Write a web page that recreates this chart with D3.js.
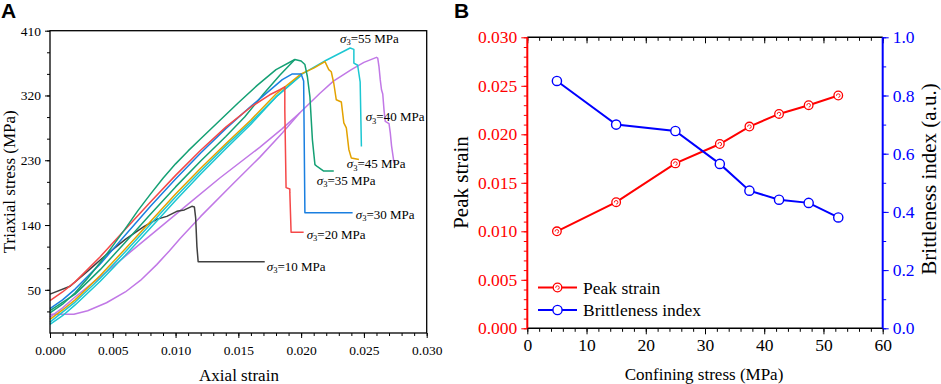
<!DOCTYPE html>
<html>
<head>
<meta charset="utf-8">
<title>Triaxial stress and brittleness</title>
<script src="https://d3js.org/d3.v7.min.js"></script>
<style>
  body { margin: 0; background: #fff; }
  text { font-family: "Liberation Serif", "Times New Roman", serif; }
</style>
</head>
<body>
<div id="chart"></div>
<script>
// ---------- panel A: stress-strain curves, [axial strain, triaxial stress (MPa)]
var curve10 = [[0,44],[0.0016,55],[0.003,76],[0.0045,99],[0.006,120],[0.0075,138],[0.0085,148],[0.0093,152],
  [0.0101,159],[0.0107,161],[0.0113,166],[0.0115,165],[0.0116,150],[0.0117,110],[0.0118,89],[0.0171,89]];
var curve20 = [[0,35],[0.001,47],[0.002,61],[0.004,96],[0.006,134],[0.008,172],[0.010,209],[0.012,244],
  [0.014,276],[0.016,304],[0.0175,321],[0.0183,328],[0.0187,332],[0.0187,300],[0.0188,192],[0.0191,190],
  [0.0191,185],[0.0192,130],[0.0202,130]];
var curve30 = [[0,24],[0.001,36],[0.002,51],[0.004,86],[0.006,126],[0.008,166],[0.010,204],[0.012,240],
  [0.014,274],[0.016,305],[0.0175,327],[0.0185,342],[0.0193,350],[0.0200,350],[0.0202,340],[0.0203,157],[0.0241,157]];
var curve35 = [[0,18],[0.001,30],[0.002,46],[0.003,66],[0.004,88],[0.005,111],[0.006,135],[0.007,160],
  [0.008,183],[0.009,205],[0.010,225],[0.011,243],[0.012,260],[0.0135,285],[0.015,310],[0.0165,334],
  [0.018,356],[0.0195,370],[0.0200,368],[0.0203,363],[0.0205,346],[0.0207,318],[0.0209,258],[0.0211,224],
  [0.0213,221],[0.0218,215],[0.0226,215]];
var curve35b = [[0,21],[0.002,44],[0.004,78],[0.006,116],[0.008,155],[0.010,193],[0.012,229],[0.014,263],
  [0.0155,290],[0.017,322],[0.0183,348],[0.0195,370]];
var curve40 = [[0,16],[0.0019,16],[0.003,21],[0.0045,32],[0.006,47],[0.0072,63],[0.0085,85],[0.0095,104],
  [0.0104,122],[0.012,152],[0.0145,196],[0.0167,234],[0.0185,268],[0.0199,296],[0.0215,323],[0.02257,340],
  [0.024,356],[0.025,366],[0.026,373],[0.0261,372],[0.0262,360],[0.0263,342],[0.0264,328],[0.0265,322],
  [0.0266,300],[0.0267,284],[0.0270,281],[0.0271,268],[0.0272,250],[0.0274,226]];
var curve40b = [[0,12],[0.001,25],[0.002,40],[0.003,54],[0.0045,75],[0.0065,104],[0.0085,133],[0.011,169],
  [0.0135,205],[0.0167,248],[0.0185,274],[0.0199,296]];
var curve45 = [[0,9],[0.001,22],[0.002,36],[0.004,70],[0.006,107],[0.008,145],[0.010,183],[0.012,219],
  [0.014,253],[0.016,286],[0.018,322],[0.020,350],[0.021,358],[0.0219,367],[0.0222,356],[0.0224,353],
  [0.0226,337],[0.0228,314],[0.0232,311],[0.0234,282],[0.0236,275],[0.0238,245],[0.0240,233],[0.0246,231]];
var curve55 = [[0,2],[0.001,14],[0.002,29],[0.004,62],[0.006,98],[0.008,136],[0.010,174],[0.012,211],
  [0.014,246],[0.016,280],[0.018,318],[0.020,349],[0.022,369],[0.0239,386],[0.0242,384],[0.0242,365],
  [0.0245,362],[0.0247,339],[0.0248,249]];
var curve55b = [[0,5],[0.002,33],[0.004,66],[0.006,103],[0.008,141],[0.010,179],[0.012,215],[0.014,250],
  [0.016,283],[0.018,318],[0.020,348]];

var strainTicks = [0, 0.005, 0.010, 0.015, 0.020, 0.025, 0.030];
var stressTicks = [50, 140, 230, 320, 410];

// ---------- panel B
var confining   = [5, 15, 25, 32.5, 37.5, 42.5, 47.5, 52.5];
var peakStrain  = [0.0100, 0.0130, 0.0170, 0.0190, 0.0208, 0.0221, 0.0230, 0.0240];
var brittleness = [0.850, 0.700, 0.678, 0.565, 0.473, 0.442, 0.431, 0.381];

var confTicks    = [0, 10, 20, 30, 40, 50, 60];
var peakTicks    = [0, 0.005, 0.010, 0.015, 0.020, 0.025, 0.030];
var brittleTicks = [0, 0.2, 0.4, 0.6, 0.8, 1.0];

var svg = d3.select("#chart").append("svg")
  .attr("width", 941).attr("height", 384);

// helper: style an axis group
function styleAxis(g, size, color) {
  g.attr("font-family", "Liberation Serif, Times New Roman, serif")
   .attr("font-size", size)
   .attr("color", color);
  g.select(".domain").remove();
}

// ================= panel A =================
var xA = d3.scaleLinear().domain([0, 0.03]).range([50, 426.7]);
var yA = d3.scaleLinear().domain([-10, 410]).range([333, 30.7]);

var curvesA = [
  { pts: curve40,  color: "#c178e6" },
  { pts: curve40b, color: "#c178e6" },
  { pts: curve10,  color: "#404040" },
  { pts: curve55b, color: "#1cc7d2" },
  { pts: curve55,  color: "#1cc7d2" },
  { pts: curve45,  color: "#e3a200" },
  { pts: curve35b, color: "#14a074" },
  { pts: curve30,  color: "#1a7fe0" },
  { pts: curve20,  color: "#f54848" },
  { pts: curve35,  color: "#14a074" }
];

var lineA = d3.line()
  .x(function(d) { return xA(d[0]); })
  .y(function(d) { return yA(d[1]); });

var gA = svg.append("g");

gA.selectAll(".curve").data(curvesA).enter().append("path")
  .attr("class", "curve")
  .attr("d", function(d) { return lineA(d.pts); })
  .attr("fill", "none")
  .attr("stroke", function(d) { return d.color; })
  .attr("stroke-width", 1.5)
  .attr("stroke-linejoin", "round");

// axes A
var axB = gA.append("g").attr("transform", "translate(0,333)")
  .call(d3.axisBottom(xA).tickValues(strainTicks).tickFormat(d3.format(".3f"))
    .tickSize(5).tickPadding(7));
styleAxis(axB, "13.5px", "#000");
var axBm = gA.append("g").attr("transform", "translate(0,333)")
  .call(d3.axisBottom(xA).tickValues(d3.range(0, 0.0301, 0.001)).tickFormat("").tickSize(3));
styleAxis(axBm, "13.5px", "#000");

var axL = gA.append("g").attr("transform", "translate(50,0)")
  .call(d3.axisLeft(yA).tickValues(stressTicks).tickFormat(d3.format("d"))
    .tickSize(5).tickPadding(4));
styleAxis(axL, "13.5px", "#000");
var axLm = gA.append("g").attr("transform", "translate(50,0)")
  .call(d3.axisLeft(yA).tickValues(d3.range(20, 411, 30)).tickFormat("").tickSize(3));
styleAxis(axLm, "13.5px", "#000");

gA.append("rect")
  .attr("x", 50).attr("y", 30.7)
  .attr("width", 376.7).attr("height", 302.3)
  .attr("fill", "none").attr("stroke", "#000").attr("stroke-width", 1.3);

// curve labels
var labelsA = [
  { s: "55", x: 0.02310, y: 393.4 },
  { s: "40", x: 0.02514, y: 284.0 },
  { s: "45", x: 0.02363, y: 219.0 },
  { s: "35", x: 0.02124, y: 196.0 },
  { s: "30", x: 0.02435, y: 148.9 },
  { s: "20", x: 0.02044, y: 121.2 },
  { s: "10", x: 0.01726, y: 76.3 }
];
labelsA.forEach(function(l) {
  var t = gA.append("text")
    .attr("x", xA(l.x)).attr("y", yA(l.y))
    .attr("font-size", "13px").attr("fill", "#000");
  t.append("tspan").attr("font-style", "italic").text("σ");
  t.append("tspan").attr("font-size", "8.5px").attr("dy", 2.5).text("3");
  t.append("tspan").attr("dy", -2.5).text("=" + l.s + " MPa");
});

gA.append("text").attr("x", 239).attr("y", 381)
  .attr("text-anchor", "middle").attr("font-size", "17px").text("Axial strain");
gA.append("text").attr("transform", "translate(15,181.7) rotate(-90)")
  .attr("text-anchor", "middle").attr("font-size", "17px").text("Triaxial stress (MPa)");

svg.append("text").attr("x", 1).attr("y", 18)
  .style("font-family", "Liberation Sans, Arial, sans-serif")
  .attr("font-weight", "bold").attr("font-size", "21px").text("A");
svg.append("text").attr("x", 454).attr("y", 18)
  .style("font-family", "Liberation Sans, Arial, sans-serif")
  .attr("font-weight", "bold").attr("font-size", "21px").text("B");

// ================= panel B =================
var xB  = d3.scaleLinear().domain([0, 60]).range([527.3, 882.7]);
var yBL = d3.scaleLinear().domain([0, 0.03]).range([328.3, 37.3]);
var yBR = d3.scaleLinear().domain([0, 1]).range([328.3, 37.3]);

var gB = svg.append("g");

// bottom axis
var bx = gB.append("g").attr("transform", "translate(0,328.3)")
  .call(d3.axisBottom(xB).tickValues(confTicks).tickFormat(d3.format("d")).tickSize(6).tickPadding(4));
styleAxis(bx, "17.5px", "#000");
var bxm = gB.append("g").attr("transform", "translate(0,328.3)")
  .call(d3.axisBottom(xB).tickValues(d3.range(0, 61, 2)).tickFormat("").tickSize(3.5));
styleAxis(bxm, "17.5px", "#000");
// top axis, ticks inward
var tx = gB.append("g").attr("transform", "translate(0,37.3)")
  .call(d3.axisBottom(xB).tickValues(confTicks).tickFormat("").tickSize(6));
styleAxis(tx, "17.5px", "#000");
var txm = gB.append("g").attr("transform", "translate(0,37.3)")
  .call(d3.axisBottom(xB).tickValues(d3.range(0, 61, 2)).tickFormat("").tickSize(3.5));
styleAxis(txm, "17.5px", "#000");

// left axis (red)
var ly = gB.append("g").attr("transform", "translate(527.3,0)")
  .call(d3.axisLeft(yBL).tickValues(peakTicks).tickFormat(d3.format(".3f")).tickSize(6).tickPadding(4));
styleAxis(ly, "17.5px", "#ff0000");
var lym = gB.append("g").attr("transform", "translate(527.3,0)")
  .call(d3.axisLeft(yBL).tickValues(d3.range(0, 0.0301, 0.001)).tickFormat("").tickSize(3.5));
styleAxis(lym, "17.5px", "#ff0000");

// right axis (blue)
var ry = gB.append("g").attr("transform", "translate(882.7,0)")
  .call(d3.axisRight(yBR).tickValues(brittleTicks).tickFormat(d3.format(".1f")).tickSize(6).tickPadding(4));
styleAxis(ry, "17.5px", "#0000ff");
var rym = gB.append("g").attr("transform", "translate(882.7,0)")
  .call(d3.axisRight(yBR).tickValues(d3.range(0, 1.01, 0.1)).tickFormat("").tickSize(3.5));
styleAxis(rym, "17.5px", "#0000ff");

// frame
gB.append("line").attr("x1", 527.3).attr("x2", 882.7).attr("y1", 37.3).attr("y2", 37.3)
  .attr("stroke", "#000").attr("stroke-width", 1.5);
gB.append("line").attr("x1", 527.3).attr("x2", 882.7).attr("y1", 328.3).attr("y2", 328.3)
  .attr("stroke", "#000").attr("stroke-width", 1.5);
gB.append("line").attr("x1", 527.3).attr("x2", 527.3).attr("y1", 37.3).attr("y2", 328.3)
  .attr("stroke", "#ff0000").attr("stroke-width", 2);
gB.append("line").attr("x1", 882.7).attr("x2", 882.7).attr("y1", 37.3).attr("y2", 328.3)
  .attr("stroke", "#0000ff").attr("stroke-width", 2);

// series
var peakData = confining.map(function(c, i) { return [c, peakStrain[i]]; });
var britData = confining.map(function(c, i) { return [c, brittleness[i]]; });

gB.append("path")
  .attr("d", d3.line().x(function(d) { return xB(d[0]); }).y(function(d) { return yBL(d[1]); })(peakData))
  .attr("fill", "none").attr("stroke", "#ff0000").attr("stroke-width", 2);
gB.append("path")
  .attr("d", d3.line().x(function(d) { return xB(d[0]); }).y(function(d) { return yBR(d[1]); })(britData))
  .attr("fill", "none").attr("stroke", "#0000ff").attr("stroke-width", 2);

function redMarker(g, x, y) {
  g.append("circle").attr("cx", x).attr("cy", y).attr("r", 4.3)
    .attr("fill", "#fff").attr("stroke", "#ff0000").attr("stroke-width", 1.3);
  g.append("path")
    .attr("d", "M" + (x - 1.8) + "," + (y + 0.3) + " a1.8,1.8 0 1,1 1.8,1.6")
    .attr("fill", "none").attr("stroke", "#ff0000").attr("stroke-width", 0.9);
}
function blueMarker(g, x, y) {
  g.append("circle").attr("cx", x).attr("cy", y).attr("r", 4.6)
    .attr("fill", "#fff").attr("stroke", "#0000ff").attr("stroke-width", 1.4);
}

peakData.forEach(function(d) { redMarker(gB, xB(d[0]), yBL(d[1])); });
britData.forEach(function(d) { blueMarker(gB, xB(d[0]), yBR(d[1])); });

// legend
gB.append("line").attr("x1", 538).attr("x2", 577).attr("y1", 287.5).attr("y2", 287.5)
  .attr("stroke", "#ff0000").attr("stroke-width", 2);
redMarker(gB, 557.5, 287.5);
gB.append("text").attr("x", 583).attr("y", 293.5).attr("font-size", "17.5px").text("Peak strain");
gB.append("line").attr("x1", 538).attr("x2", 577).attr("y1", 310).attr("y2", 310)
  .attr("stroke", "#0000ff").attr("stroke-width", 2);
blueMarker(gB, 557.5, 310);
gB.append("text").attr("x", 583).attr("y", 316).attr("font-size", "17.5px").text("Brittleness index");

// axis titles
gB.append("text").attr("x", 704).attr("y", 380)
  .attr("text-anchor", "middle").attr("font-size", "17px").text("Confining stress (MPa)");
gB.append("text").attr("transform", "translate(468,182.5) rotate(-90)")
  .attr("text-anchor", "middle").attr("font-size", "21px").text("Peak strain");
gB.append("text").attr("transform", "translate(936,179) rotate(-90)")
  .attr("text-anchor", "middle").attr("font-size", "21px").text("Brittleness index (a.u.)");
</script>
</body>
</html>
